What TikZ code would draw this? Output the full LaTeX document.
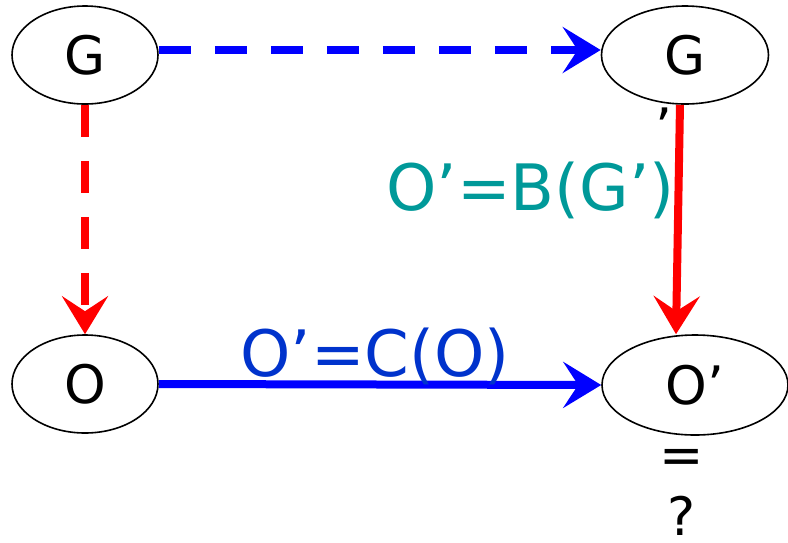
\documentclass[tikz,border=0pt]{standalone}
\usepackage{fontspec}
\setmainfont{DejaVu Sans}
\usetikzlibrary{shapes.geometric,arrows.meta}
\definecolor{petrol}{RGB}{0,153,153}
\definecolor{royal}{RGB}{0,51,204}
\begin{document}
\begin{tikzpicture}[x=1pt,y=-1pt,
  etat/.style={draw,ellipse,line width=1.6pt,inner sep=0pt,font=\fontsize{53}{60}\selectfont},
  fl/.style={line width=8pt,-{Stealth[length=38pt,width=46pt,inset=15pt]}},
  pointille/.style={dash pattern=on 32pt off 24pt},
  grand/.style={font=\fontsize{64}{70}\selectfont}]
\useasboundingbox (0,0) rectangle (788,542);
\node [etat,minimum width=146pt,minimum height=98pt] (g) at (85,55) {G};
\node [etat,minimum width=167pt,minimum height=98pt] (gp) at (685,55) {\raisebox{-7pt}{G}\hspace{14pt}};
\node [etat,minimum width=146pt,minimum height=98pt] (o) at (85,384) {O};
\node [etat,minimum width=186pt,minimum height=100pt] (op) at (695,385) {\raisebox{-6pt}{O’}\hspace{8pt}};
\node [font=\fontsize{53}{60}\selectfont] (prime) at (664,127) {’};
\node [font=\fontsize{53}{62}\selectfont,align=center,anchor=north] (question) at (682,446) {=\\?};
\draw [fl,pointille,blue] ([yshift=5pt]g.east) -- ([yshift=5pt]gp.west);
\draw [fl,pointille,red] (g.south) -- (o.north);
\draw [fl,red] ([xshift=-5pt]gp.south) -- ([xshift=-19pt]op.north);
\draw [fl,blue] (o.east) -- (op.west);
\node [grand,petrol,anchor=east] (b) at (678,190) {O’=B(G’)};
\node [grand,royal] (c) at (375,356) {O’=C(O)};
\end{tikzpicture}
\end{document}
